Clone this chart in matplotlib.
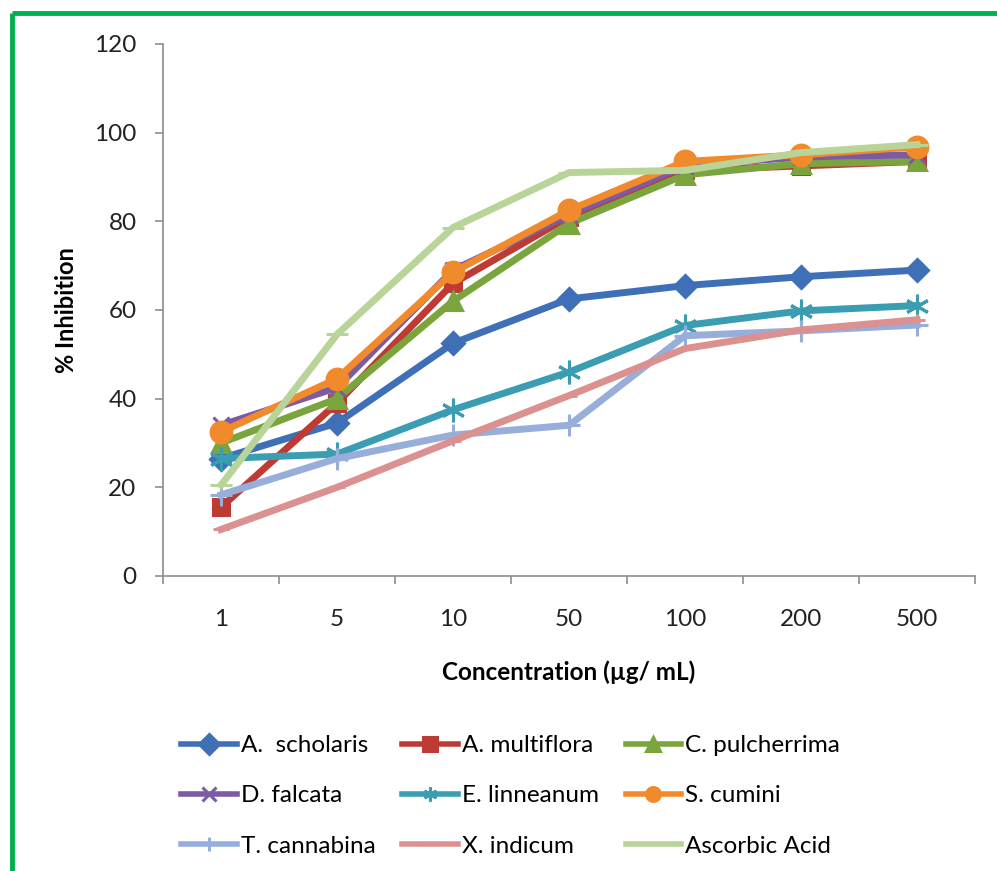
import matplotlib
matplotlib.use("Agg")
import matplotlib.pyplot as plt
from matplotlib.lines import Line2D
import numpy as np

plt.rcParams['font.family'] = ['Lato', 'DejaVu Sans']

# Data
concentrations = ['1', '5', '10', '50', '100', '200', '500']

a_scholaris = [26.5, 34.5, 52.5, 62.5, 65.5, 67.5, 69.0]
a_multiflora = [15.5, 39.0, 66.0, 81.0, 91.5, 92.5, 93.5]
c_pulcherrima = [30.0, 40.0, 62.0, 79.5, 90.5, 93.0, 93.5]
d_falcata = [34.0, 42.5, 69.0, 81.5, 92.5, 94.5, 95.0]
e_linneanum = [26.5, 27.5, 37.5, 46.0, 56.5, 59.8, 61.0]
s_cumini = [32.5, 44.5, 68.5, 82.5, 93.5, 95.0, 96.8]
t_cannabina = [18.3, 26.5, 31.8, 34.0, 54.2, 55.3, 56.6]
x_indicum = [10.5, 20.0, 30.5, 40.7, 51.3, 55.5, 57.8]
ascorbic_acid = [20.5, 54.5, 78.6, 91.0, 91.5, 95.5, 97.3]

series = [
    ('A.  scholaris', a_scholaris, '#3F6FB6', 'D', 11),
    ('A. multiflora', a_multiflora, '#BE3A34', 's', 12),
    ('C. pulcherrima', c_pulcherrima, '#7AA53C', '^', 13),
    ('D. falcata', d_falcata, '#7A5BA4', 'x', 12),
    ('E. linneanum', e_linneanum, '#3A9DB2', (6, 2, 0), 17),
    ('S. cumini', s_cumini, '#F08A2C', 'o', 15),
    ('T. cannabina', t_cannabina, '#97AEDA', '+', 16),
    ('X. indicum', x_indicum, '#DB918F', '_', 12),
    ('Ascorbic Acid', ascorbic_acid, '#B8D499', '_', 16),
]

fig = plt.figure(figsize=(9.97, 8.71), dpi=100)
ax = fig.add_axes([0.1635, 0.3387, 0.8145, 0.6108])

x = np.arange(len(concentrations))
lines = []
for name, vals, col, mk, ms in series:
    ln, = ax.plot(x, vals, color=col, lw=5, marker=mk, markersize=ms,
                  markeredgewidth=2.2, markerfacecolor=col, markeredgecolor=col,
                  label=name, solid_joinstyle='miter')
    lines.append(ln)

ax.set_xlim(-0.5, len(concentrations) - 0.5)
ax.set_ylim(0, 120)
ax.set_yticks(np.arange(0, 121, 20))
ax.set_xticks(x)
ax.set_xticklabels(concentrations)
ax.set_xticks(np.arange(-0.5, len(concentrations), 1.0), minor=True)
ax.tick_params(axis='x', which='major', length=0, pad=24, labelsize=17.5, colors='#222222')
ax.tick_params(axis='x', which='minor', length=6, color='#8C8C8C', width=1.2)
ax.tick_params(axis='y', length=6, color='#8C8C8C', width=1.2, pad=13,
               labelsize=17.5, labelcolor='#222222')

for side in ['top', 'right']:
    ax.spines[side].set_visible(False)
for side in ['left', 'bottom']:
    ax.spines[side].set_color('#8C8C8C')
    ax.spines[side].set_linewidth(1.2)

ax.set_ylabel('% Inhibition', fontsize=17, fontweight='bold', labelpad=12)
ax.set_xlabel('Concentration (\u00b5g/ mL)', fontsize=17.5, fontweight='bold', labelpad=22)

# legend filled row by row
ncol = 3
nrow = 3
order = [i * ncol + j for j in range(ncol) for i in range(nrow)]
leg = fig.legend([lines[k] for k in order], [series[k][0] for k in order],
                 loc='upper left', bbox_to_anchor=(0.172, 0.167), ncol=ncol,
                 frameon=False, fontsize=17.5, handlelength=2.3, handletextpad=0.15,
                 columnspacing=1.1, labelspacing=1.2, borderaxespad=0)
for h in leg.legend_handles:
    h.set_markersize(10)
    h.set_linewidth(4)

# green frame around the figure (clipped at right and bottom)
fig.add_artist(Line2D([0.012, 1.0], [0.985, 0.985], color='#00B050', lw=3.5,
                      transform=fig.transFigure, solid_capstyle='butt'))
fig.add_artist(Line2D([0.012, 0.012], [0.985, 0.0], color='#00B050', lw=3.5,
                      transform=fig.transFigure, solid_capstyle='butt'))

fig.savefig('out.png', dpi=100)
